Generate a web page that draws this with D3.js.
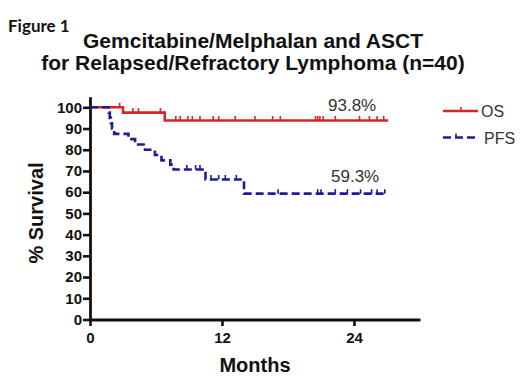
<!DOCTYPE html>
<html><head><meta charset="utf-8">
<script src="https://cdn.jsdelivr.net/npm/d3@7"></script>
<style>body{margin:0;background:#fff}svg{display:block}</style>
</head><body><svg id="c" width="520" height="377"></svg>
<script>
const figLabel = "Figure 1";
const titleLines = ["Gemcitabine/Melphalan and ASCT", "for Relapsed/Refractory Lymphoma (n=40)"];
const xTicks = [0, 12, 24];
const yTicks = [0,10,20,30,40,50,60,70,80,90,100];
const seriesNames = ["OS", "PFS"];
// OS Kaplan-Meier steps
const osTimes = [0, 3.0, 6.8];
const osSurv = [100, 97.5, 93.8];
const osEnd = 27.1;
const osCensor = [2.7, 3.9, 4.4, 6.4, 7.8, 8.2, 8.9, 9.3, 10.0, 11.2, 11.7, 13.2, 15.0, 16.6, 17.3, 20.5, 20.7, 20.9, 21.2, 22.3, 24.5, 25.4, 26.1, 26.7];
// PFS Kaplan-Meier steps
const pfsTimes = [0, 1.7, 1.8, 1.9, 2.0, 2.2, 3.5, 4.1, 5.0, 5.9, 6.5, 7.3, 7.6, 10.5, 14.0];
const pfsSurv = [100, 97.5, 95, 92.5, 90, 87.5, 85, 82.5, 80, 77.5, 75, 73, 70.7, 66, 59.3];
const pfsEnd = 27.0;
const pfsCensor = [8.8, 9.6, 10.0, 11.0, 11.7, 12.3, 13.3, 17.1, 20.7, 21.0, 22.3, 23.4, 24.6, 25.6, 26.1, 26.8];
const annotations = ["93.8%", "59.3%"];

const svg = d3.select("#c");
const x = d3.scaleLinear().domain([0, 30]).range([90, 420]);
const y = d3.scaleLinear().domain([0, 105]).range([319.5, 96.7]);
const RED = "#d42626", BLUE = "#1c1c98";

svg.append("text").attr("x", 8).attr("y", 32).attr("font-family", "Lato, 'Open Sans', sans-serif")
  .attr("font-weight", "bold").attr("font-size", 17).attr("fill", "#111").text(figLabel);
svg.selectAll("text.title").data(titleLines).enter().append("text").attr("class","title")
  .attr("x", 253).attr("y", (d,i) => 48 + i*22).attr("text-anchor", "middle")
  .attr("font-family", "'Liberation Sans', Arial, sans-serif").attr("font-weight", "bold")
  .attr("font-size", 21).attr("fill", "#111").text(d => d);

// axes
const yAxis = svg.append("g").attr("transform", "translate(90,0)")
  .call(d3.axisLeft(y).tickValues(yTicks).tickSize(7).tickSizeOuter(0).tickPadding(1));
const xAxis = svg.append("g").attr("transform", "translate(0,319.5)")
  .call(d3.axisBottom(x).tickValues(xTicks).tickSize(6.5).tickSizeOuter(0).tickPadding(6));
[yAxis, xAxis].forEach(g => {
  g.selectAll("path.domain").attr("stroke", "#111").attr("stroke-width", 2.8);
  g.selectAll(".tick line").attr("stroke", "#111").attr("stroke-width", 2.6);
  g.selectAll(".tick text").attr("font-family", "'Liberation Sans', Arial, sans-serif")
    .attr("font-weight", "bold").attr("font-size", 15).attr("fill", "#111");
});

svg.append("text").attr("x", 255).attr("y", 371.5).attr("text-anchor", "middle")
  .attr("font-family", "'Liberation Sans', Arial, sans-serif").attr("font-weight", "bold")
  .attr("font-size", 20).attr("fill", "#111").text("Months");
svg.append("text").attr("transform", "translate(43,213) rotate(-90)").attr("text-anchor", "middle")
  .attr("font-family", "'Liberation Sans', Arial, sans-serif").attr("font-weight", "bold")
  .attr("font-size", 20).attr("fill", "#111").text("% Survival");

function kmPoints(times, surv, end) {
  const pts = [];
  times.forEach((t, i) => {
    if (i > 0) pts.push([t, surv[i-1]]);
    pts.push([t, surv[i]]);
  });
  pts.push([end, surv[surv.length-1]]);
  return pts;
}
function survAt(times, surv, t) {
  let s = surv[0];
  times.forEach((tt, i) => { if (tt <= t) s = surv[i]; });
  return s;
}
const line = d3.line().x(d => x(d[0])).y(d => y(d[1]));

function drawSeries(times, surv, end, censor, color, dash) {
  const g = svg.append("g");
  g.append("path").attr("d", line(kmPoints(times, surv, end))).attr("fill", "none")
    .attr("stroke", color).attr("stroke-width", 2.6).attr("stroke-dasharray", dash);
  g.selectAll("line").data(censor).enter().append("line")
    .attr("x1", d => x(d)).attr("x2", d => x(d))
    .attr("y1", d => y(survAt(times, surv, d))).attr("y2", d => y(survAt(times, surv, d)) - 4.5)
    .attr("stroke", color).attr("stroke-width", 1.6);
}
drawSeries(osTimes, osSurv, osEnd, osCensor, RED, null);
drawSeries(pfsTimes, pfsSurv, pfsEnd, pfsCensor, BLUE, "8,4");

// annotations
svg.append("text").attr("x", 328).attr("y", 111).attr("font-family", "'Liberation Sans', Arial, sans-serif")
  .attr("font-size", 17).attr("fill", "#333").text(annotations[0]);
svg.append("text").attr("x", 331).attr("y", 182).attr("font-family", "'Liberation Sans', Arial, sans-serif")
  .attr("font-size", 17).attr("fill", "#333").text(annotations[1]);

// legend
const leg = svg.append("g");
const legY = [111, 137.5];
const legColors = [RED, BLUE];
seriesNames.forEach((n, i) => {
  leg.append("line").attr("x1", 443).attr("x2", 478).attr("y1", legY[i]).attr("y2", legY[i])
    .attr("stroke", legColors[i]).attr("stroke-width", 2.4)
    .attr("stroke-dasharray", i === 1 ? "8,4" : null);
  leg.append("line").attr("x1", i === 1 ? 456 : 461).attr("x2", i === 1 ? 456 : 461)
    .attr("y1", legY[i]).attr("y2", legY[i] - 4)
    .attr("stroke", legColors[i]).attr("stroke-width", 1.6);
  leg.append("text").attr("x", i === 1 ? 484 : 481).attr("y", legY[i] + 6)
    .attr("font-family", "'Liberation Sans', Arial, sans-serif").attr("font-size", 16)
    .attr("fill", "#333").text(n);
});
</script></body></html>
